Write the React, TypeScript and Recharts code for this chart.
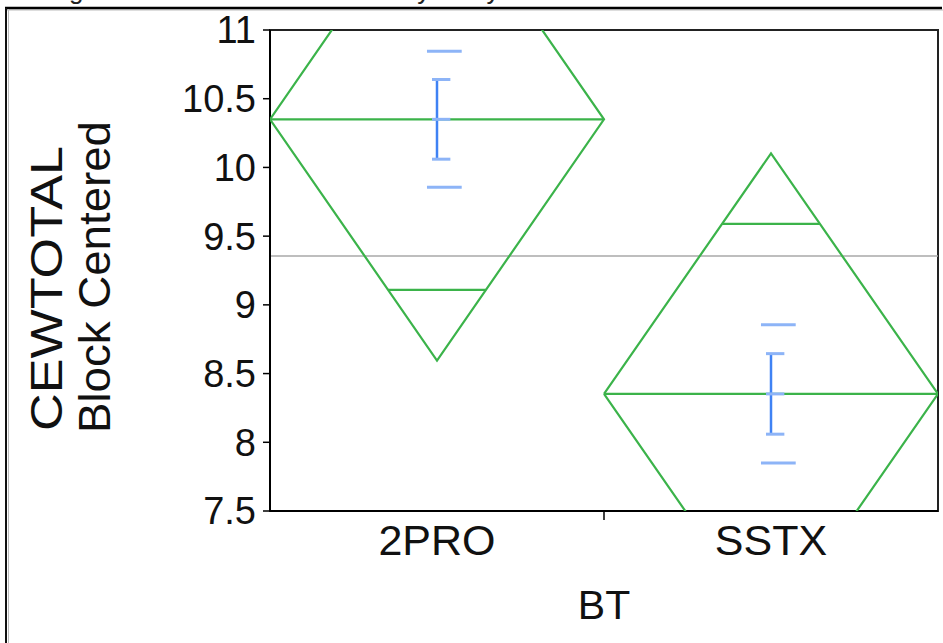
import React from 'react';
import {
  ComposedChart,
  XAxis,
  YAxis,
  Scatter,
  ReferenceLine,
  ReferenceArea,
} from 'recharts';

// Group levels of BT and their summary statistics for CEWTOTAL (block centered)
const groups = ['2PRO', 'SSTX'];
const groupMeans = [10.35, 8.352];
const ciHalfWidths = [1.755, 1.75]; // 95% confidence half-widths (diamond half-heights)
const stdErrors = [0.29, 0.293];
const stdDevs = [0.495, 0.503];
const grandMean = 9.355;
const yTicks = [7.5, 8, 8.5, 9, 9.5, 10, 10.5, 11];

const FONT = '"Liberation Sans", Arial, Helvetica, sans-serif';
const GREEN = '#3bb34a';
const BLUE = '#3f82f4';
const LIGHT_BLUE = '#8db4f7';

type Pt = { x: number; y: number };

// Diamond outline for a group slot [i, i+1]
const diamondPoints = (i: number): Pt[] => {
  const m = groupMeans[i];
  const h = ciHalfWidths[i];
  return [
    { x: i, y: m },
    { x: i + 0.5, y: m + h },
    { x: i + 1, y: m },
    { x: i + 0.5, y: m - h },
    { x: i, y: m },
  ];
};

// Overlap marks sit at mean ± CI/√2, spanning the diamond width at that height
const overlapSegments = (i: number): [Pt, Pt][] => {
  const m = groupMeans[i];
  const d = ciHalfWidths[i] / Math.SQRT2;
  const half = 0.5 * (1 - 1 / Math.SQRT2);
  const c = i + 0.5;
  return [m + d, m - d].map((y) => [
    { x: c - half, y },
    { x: c + half, y },
  ]);
};

const CategoryTick = (props: any) => {
  const { x, y, payload } = props;
  const v = payload.value as number;
  if (Number.isInteger(v)) {
    return <line x1={x} x2={x} y1={y - 13} y2={y - 4} stroke="#000" strokeWidth={1.5} />;
  }
  return (
    <text x={x} y={y} dy="0.71em" textAnchor="middle" fontSize={43} fill="#111" fontFamily={FONT}>
      {groups[Math.floor(v)]}
    </text>
  );
};

const xTicks = [0.5, 1, 1.5];

export default function App() {
  return (
    <div style={{ position: 'relative', width: 943, height: 643, fontFamily: FONT, background: '#fff', overflow: 'hidden' }}>
      <style>{'body{margin:0;}'}</style>
      <div style={{ position: 'absolute', left: 0, top: 0 }}>
        <ComposedChart width={943} height={643} margin={{ top: 30, right: 5, bottom: 0, left: 0 }}>
          <XAxis
            dataKey="x"
            type="number"
            domain={[0, 2]}
            ticks={xTicks}
            tick={<CategoryTick />}
            tickLine={false}
            tickSize={0}
            tickMargin={13}
            height={132}
            axisLine={{ stroke: '#000', strokeWidth: 2 }}
            allowDataOverflow
            label={{ value: 'BT', position: 'insideBottom', offset: 24, fontSize: 41, fill: '#111' }}
          />
          <YAxis
            dataKey="y"
            type="number"
            domain={[7.5, 11]}
            ticks={yTicks}
            allowDataOverflow
            width={270}
            tickSize={7}
            tickMargin={7}
            tick={{ fontSize: 38, fill: '#111', fontFamily: FONT }}
            tickLine={{ stroke: '#000', strokeWidth: 1.5 }}
            axisLine={{ stroke: '#000', strokeWidth: 2 }}
          />
          <ReferenceArea x1={0} x2={2} y1={7.5} y2={11} fill="none" stroke="#222" strokeWidth={2} ifOverflow="visible" />
          <ReferenceLine y={grandMean} stroke="#a9a9a9" strokeWidth={1.5} />
          {groups.map((g, i) => (
            <Scatter
              key={`diamond-${g}`}
              data={diamondPoints(i)}
              dataKey="y"
              line={{ stroke: GREEN, strokeWidth: 2.2 }}
              lineType="joint"
              shape={() => <g />}
              isAnimationActive={false}
            />
          ))}
          {groups.map((g, i) => (
            <ReferenceLine
              key={`mean-${g}`}
              segment={[
                { x: i, y: groupMeans[i] },
                { x: i + 1, y: groupMeans[i] },
              ]}
              stroke={GREEN}
              strokeWidth={2.2}
              ifOverflow="hidden"
            />
          ))}
          {groups.flatMap((g, i) =>
            overlapSegments(i).map((seg, k) => (
              <ReferenceLine key={`ov-${g}-${k}`} segment={seg} stroke={GREEN} strokeWidth={2.2} ifOverflow="hidden" />
            ))
          )}
          {groups.flatMap((g, i) => {
            const c = i + 0.5;
            const m = groupMeans[i];
            const se = stdErrors[i];
            const sd = stdDevs[i];
            return [
              <ReferenceLine
                key={`se-${g}`}
                segment={[{ x: c, y: m - se }, { x: c, y: m + se }]}
                stroke={BLUE}
                strokeWidth={2.5}
                ifOverflow="hidden"
              />,
              ...[m - se, m + se].map((y, k) => (
                <ReferenceLine
                  key={`cap-${g}-${k}`}
                  segment={[{ x: c - 0.015, y }, { x: c + 0.04, y }]}
                  stroke={LIGHT_BLUE}
                  strokeWidth={3}
                  ifOverflow="hidden"
                />
              )),
              <ReferenceLine
                key={`mc-${g}`}
                segment={[{ x: c - 0.015, y: m }, { x: c + 0.04, y: m }]}
                stroke={LIGHT_BLUE}
                strokeWidth={3}
                ifOverflow="hidden"
              />,
              ...[m - sd, m + sd].map((y, k) => (
                <ReferenceLine
                  key={`sd-${g}-${k}`}
                  segment={[{ x: c - 0.03, y }, { x: c + 0.074, y }]}
                  stroke={LIGHT_BLUE}
                  strokeWidth={3}
                  ifOverflow="hidden"
                />
              )),
            ];
          })}
        </ComposedChart>
      </div>
      <svg width={943} height={643} style={{ position: 'absolute', left: 0, top: 0, pointerEvents: 'none' }}>
        <text x={14} y={-1} fontSize={26} fill="#222" fontFamily={FONT}>
          Categorical means from the oneway analysis
        </text>
        <line x1={5} x2={943} y1={10} y2={10} stroke="#bbb" strokeWidth={1} />
        <line x1={5} x2={942} y1={8} y2={8} stroke="#000" strokeWidth={2.5} />
        <line x1={8.5} x2={8.5} y1={9} y2={643} stroke="#bbb" strokeWidth={1} />
        <line x1={6} x2={6} y1={8} y2={643} stroke="#111" strokeWidth={2} />
        <text
          transform="translate(62,431) rotate(-90)"
          fontSize={44}
          fill="#111"
          fontFamily={FONT}
          textLength={285}
          lengthAdjust="spacingAndGlyphs"
        >
          CEWTOTAL
        </text>
        <text
          transform="translate(110,433) rotate(-90)"
          fontSize={44}
          fill="#111"
          fontFamily={FONT}
          textLength={312}
          lengthAdjust="spacingAndGlyphs"
        >
          Block Centered
        </text>
      </svg>
    </div>
  );
}
